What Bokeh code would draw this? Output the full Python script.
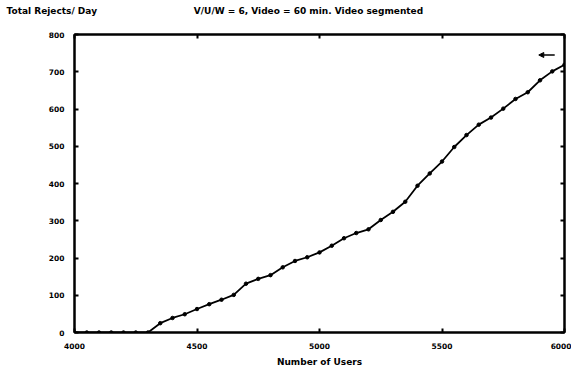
from bokeh.plotting import figure
from bokeh.layouts import column
from bokeh.models import LinearAxis, Range1d, Arrow, NormalHead, FixedTicker, Label
from bokeh.embed import file_html
from bokeh.resources import INLINE

# Rejected requests per day versus number of users (sampled every 50 users)
users = [4000, 4050, 4100, 4150, 4200, 4250, 4300, 4350, 4400, 4450,
         4500, 4550, 4600, 4650, 4700, 4750, 4800, 4850, 4900, 4950,
         5000, 5050, 5100, 5150, 5200, 5250, 5300, 5350, 5400, 5450,
         5500, 5550, 5600, 5650, 5700, 5750, 5800, 5850, 5900, 5950, 6000]
rejects = [0, 0, 0, 0, 0, 0, 0, 25, 39, 49,
           63, 76, 88, 101, 131, 144, 154, 175, 192, 202,
           215, 233, 253, 267, 277, 302, 324, 351, 394, 427,
           459, 498, 530, 558, 577, 601, 627, 645, 677, 701, 719]

x_ticks = [4000, 4500, 5000, 5500, 6000]
y_ticks = [0, 100, 200, 300, 400, 500, 600, 700, 800]

y_title = "Total Rejects/ Day"
main_title = "V/U/W = 6, Video = 60 min. Video segmented"
x_title = "Number of Users"

FONT = "DejaVu Sans"
TICK_SIZE = "7.5px"
TITLE_SIZE = "9px"

# Header strip holding the y-quantity and the run description on one line
header = figure(width=571, height=20, output_backend="svg", toolbar_location=None,
                x_range=Range1d(0, 571), y_range=Range1d(0, 20),
                x_axis_location=None, y_axis_location=None,
                min_border=0, outline_line_color=None)
header.frame_align = False
header.grid.visible = False
header.add_layout(Label(x=6, y=10, text=y_title, text_baseline="middle",
                        text_font=FONT, text_font_style="bold",
                        text_font_size=TITLE_SIZE, text_color="black"))
header.add_layout(Label(x=308, y=10, text=main_title, text_baseline="middle",
                        text_align="center", text_font=FONT, text_font_style="bold",
                        text_font_size=TITLE_SIZE, text_color="black"))

p = figure(width=571, height=349, output_backend="svg", toolbar_location=None,
           x_range=Range1d(4000, 6000), y_range=Range1d(0, 800),
           x_axis_location=None, y_axis_location=None,
           min_border_left=74, min_border_right=7, min_border_top=14, min_border_bottom=36)
p.frame_align = False
p.grid.visible = False
p.outline_line_color = "black"
p.outline_line_width = 2
p.background_fill_color = "white"
p.border_fill_color = "white"


def make_axis(ticks, show_labels):
    ax = LinearAxis(ticker=FixedTicker(ticks=ticks))
    ax.axis_line_color = "black"
    ax.axis_line_width = 2
    ax.major_tick_in = 4
    ax.major_tick_out = 0
    ax.major_tick_line_width = 2
    ax.minor_tick_line_color = None
    ax.major_label_text_font = FONT
    ax.major_label_text_font_style = "bold"
    ax.major_label_text_font_size = TICK_SIZE
    ax.major_label_text_color = "black"
    ax.major_label_standoff = 10
    if not show_labels:
        ax.major_label_overrides = {t: "" for t in ticks}
        ax.major_label_standoff = 0
    return ax


bottom = make_axis(x_ticks, True)
bottom.axis_label = x_title
bottom.axis_label_standoff = 5
bottom.axis_label_text_font = FONT
bottom.axis_label_text_font_style = "bold"
bottom.axis_label_text_font_size = TITLE_SIZE
bottom.axis_label_text_color = "black"
p.add_layout(bottom, "below")
p.add_layout(make_axis(y_ticks, True), "left")
p.add_layout(make_axis(x_ticks, False), "above")
p.add_layout(make_axis(y_ticks, False), "right")

p.line(users, rejects, line_color="black", line_width=1.8)
p.scatter(users, rejects, size=3.5, color="black")

# Legend symbol in the upper right corner
p.add_layout(Arrow(end=NormalHead(size=5, fill_color="black", line_color="black"),
                   x_start=5960, y_start=745, x_end=5895, y_end=745,
                   line_color="black", line_width=1.5))

layout = column(header, p, spacing=0)
open("out.html", "w").write(file_html(layout, INLINE))
